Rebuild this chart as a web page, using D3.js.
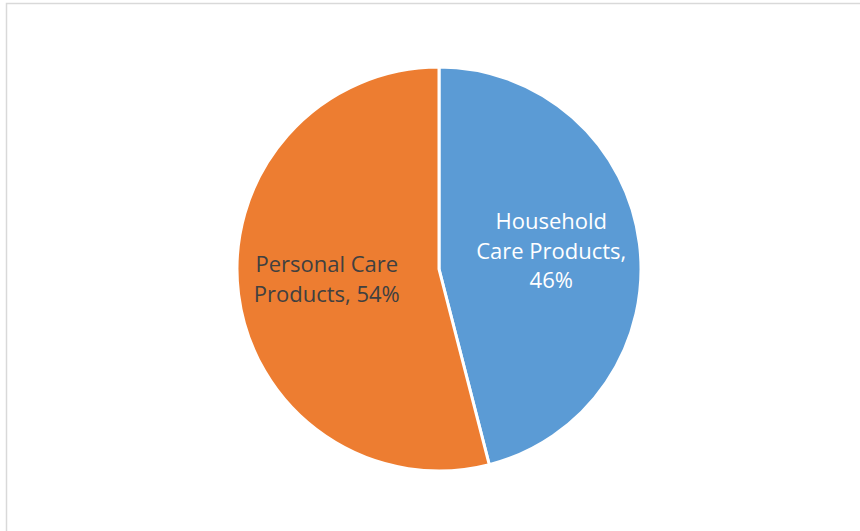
<!DOCTYPE html>
<html>
<head>
<meta charset="utf-8">
<script src="https://cdn.jsdelivr.net/npm/d3@7"></script>
<style>
  body { margin: 0; background: #fff; }
  svg { display: block; }
</style>
</head>
<body>
<svg id="chart"></svg>
<script>
var categories = ["Household Care Products", "Personal Care Products"];
var shares = [46, 54];
var labelLines = [["Household", "Care Products,", "46%"], ["Personal Care", "Products, 54%"]];
var colors = ["#5B9BD5", "#ED7D31"];
var labelColors = ["#ffffff", "#404040"];

var width = 860;
var height = 531;
var cx = 439, cy = 269, radius = 202;

var data = categories.map(function(c, i) {
  return { name: c, value: shares[i], lines: labelLines[i], i: i };
});

var svg = d3.select("#chart")
  .attr("width", width)
  .attr("height", height);

// chart frame, runs off the right and bottom edge
svg.append("rect")
  .attr("x", 6.5)
  .attr("y", 3.5)
  .attr("width", 900)
  .attr("height", 600)
  .attr("fill", "#fff")
  .attr("stroke", "#d9d9d9")
  .attr("stroke-width", 1.5);

var pie = d3.pie()
  .value(function(d) { return d.value; })
  .sort(null);

var arc = d3.arc()
  .innerRadius(0)
  .outerRadius(radius);

var g = svg.append("g")
  .attr("transform", "translate(" + cx + "," + cy + ")");

var arcs = pie(data);

g.selectAll("path")
  .data(arcs)
  .enter()
  .append("path")
  .attr("d", arc)
  .attr("fill", function(d) { return colors[d.data.i]; })
  .attr("stroke", "#fff")
  .attr("stroke-width", 3);

// label positions inside the slices
var labelArc = d3.arc()
  .innerRadius(radius * 0.56)
  .outerRadius(radius * 0.56);

var lineH = 29.5;
g.selectAll("text.label")
  .data(arcs)
  .enter()
  .append("text")
  .attr("class", "label")
  .attr("text-anchor", "middle")
  .attr("font-family", "Open Sans, sans-serif")
  .attr("font-size", "22px")
  .attr("fill", function(d) { return labelColors[d.data.i]; })
  .each(function(d) {
    var c = labelArc.centroid(d);
    var n = d.data.lines.length;
    var t = d3.select(this);
    d.data.lines.forEach(function(line, k) {
      t.append("tspan")
        .attr("x", c[0])
        .attr("y", c[1] + (k - (n - 1) / 2) * lineH + 4)
        .text(line);
    });
  });
</script>
</body>
</html>
